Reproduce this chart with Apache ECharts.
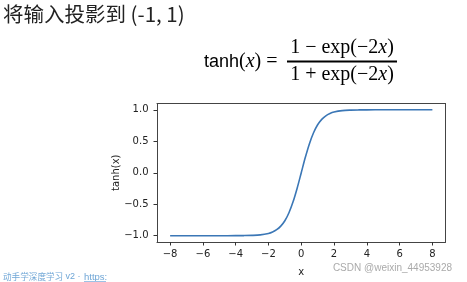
<!DOCTYPE html>
<html><head><meta charset="utf-8">
<script src="https://cdn.jsdelivr.net/npm/echarts@6/dist/echarts.min.js"></script>
<style>html,body{margin:0;padding:0;background:#fff}#c{width:467px;height:282px}</style>
</head><body><div id="c"></div>
<script>
// Values (tanh curve)
const xValues = [-8, -7, -6, -5, -4, -3.5, -3, -2.5, -2, -1.75, -1.5, -1.25, -1, -0.75, -0.5, -0.25, 0,
                 0.25, 0.5, 0.75, 1, 1.25, 1.5, 1.75, 2, 2.5, 3, 3.5, 4, 5, 6, 7, 8];
const yValues = [-1.0, -1.0, -1.0, -1.0, -0.999, -0.998, -0.995, -0.987, -0.964, -0.941, -0.905, -0.848, -0.762, -0.635, -0.462, -0.245, 0,
                 0.245, 0.462, 0.635, 0.762, 0.848, 0.905, 0.941, 0.964, 0.987, 0.995, 0.998, 0.999, 1.0, 1.0, 1.0, 1.0];
const xTicks = [-8, -6, -4, -2, 0, 2, 4, 6, 8];
const yTicks = [-1.0, -0.5, 0.0, 0.5, 1.0];
const titleText = '将输入投影到 (-1, 1)';
const footerCJK = '动手学深度学习';
const footerLatin = ' v2 · ';
const footerLink = 'https:';
const watermark = 'CSDN @weixin_44953928';

const fmt = v => {
  const s = (Math.abs(v) < 1e-9 ? 0 : v);
  return (s < 0 ? '\u2212' : '') + Math.abs(s).toString();
};
const fmtY = v => {
  const s = (Math.abs(v) < 1e-9 ? 0 : v);
  return (s < 0 ? '\u2212' : '') + Math.abs(s).toFixed(1);
};

const chart = echarts.init(document.getElementById('c'), null, {renderer: 'canvas'});
const serif = '"Liberation Serif", "DejaVu Serif", serif';
const richF = {
  s: {fontFamily: '"Liberation Sans", Arial, sans-serif', fontSize: 18, color: '#000'},
  r: {fontFamily: serif, fontSize: 20, color: '#000'},
  i: {fontFamily: serif, fontSize: 20, fontStyle: 'italic', color: '#000'}
};
const frameLine = {show: true, onZero: false, lineStyle: {color: '#444', width: 1}};
const tickFont = {fontFamily: '"DejaVu Sans"', fontSize: 10, color: '#222'};
chart.setOption({
  animation: false,
  grid: {left: 157, right: 21.5, top: 103.5, bottom: 36.5, containLabel: false},
  xAxis: [{
    type: 'value', min: -8.8, max: 8.8, position: 'bottom',
    name: 'x', nameLocation: 'middle', nameGap: 25, nameMoveOverlap: false,
    nameTextStyle: tickFont,
    axisLine: frameLine,
    splitLine: {show: false},
    axisTick: {show: true, length: 3.5, lineStyle: {color: '#333'}, customValues: xTicks},
    axisLabel: Object.assign({customValues: xTicks, formatter: fmt, margin: 7}, tickFont)
  }, {
    type: 'value', min: -8.8, max: 8.8, position: 'top',
    axisLine: frameLine, axisTick: {show: false}, axisLabel: {show: false}, splitLine: {show: false}
  }],
  yAxis: [{
    type: 'value', min: -1.1, max: 1.1, position: 'left',
    name: 'tanh(x)', nameLocation: 'middle', nameGap: 36, nameRotate: 90, nameMoveOverlap: false,
    nameTextStyle: tickFont,
    axisLine: frameLine,
    splitLine: {show: false},
    axisTick: {show: true, length: 3.5, lineStyle: {color: '#333'}, customValues: yTicks},
    axisLabel: Object.assign({customValues: yTicks, formatter: fmtY, margin: 8.5}, tickFont)
  }, {
    type: 'value', min: -1.1, max: 1.1, position: 'right',
    axisLine: frameLine, axisTick: {show: false}, axisLabel: {show: false}, splitLine: {show: false}
  }],
  series: [{
    type: 'line', xAxisIndex: 0, yAxisIndex: 0, data: xValues.map((x, i) => [x, yValues[i]]),
    showSymbol: false, smooth: 0.3, lineStyle: {color: '#3b77b6', width: 1.6}
  }],
  graphic: [
    {type: 'text', left: 3, top: 4, style: {text: titleText, fontFamily: '"Noto Sans CJK SC", sans-serif', fontSize: 20.5, fill: '#222'}},
    {type: 'text', x: 204, y: 62, style: {text: '{s|tanh}{r|(}{i|x}{r|) =}', rich: richF, verticalAlign: 'middle', align: 'left'}},
    {type: 'text', x: 342, y: 48, style: {text: '{r|1 \u2212 exp(\u22122}{i|x}{r|)}', rich: richF, verticalAlign: 'middle', align: 'center'}},
    {type: 'line', shape: {x1: 287, y1: 61.5, x2: 397, y2: 61.5}, style: {stroke: '#000', lineWidth: 2}},
    {type: 'text', x: 342, y: 75, style: {text: '{r|1 + exp(\u22122}{i|x}{r|)}', rich: richF, verticalAlign: 'middle', align: 'center'}},
    {type: 'text', x: 3, y: 277, style: {text: footerCJK, fontFamily: '"Noto Sans CJK SC", sans-serif', fontSize: 8.6, fill: '#6fa6d6', verticalAlign: 'middle'}},
    {type: 'text', x: 63, y: 277, style: {text: footerLatin, fontFamily: '"Liberation Sans", sans-serif', fontSize: 9, fill: '#6fa6d6', verticalAlign: 'middle'}},
    {type: 'text', x: 84, y: 277, style: {text: footerLink, fontFamily: '"Liberation Sans", sans-serif', fontSize: 9.5, fill: '#6fa6d6', verticalAlign: 'middle'}},
    {type: 'line', shape: {x1: 84, y1: 281.5, x2: 106, y2: 281.5}, style: {stroke: '#9cc2e6', lineWidth: 1}},
    {type: 'text', x: 452, y: 268, style: {text: watermark, fontFamily: '"Liberation Sans", Arial, sans-serif', fontSize: 10, fill: '#aaaaaa', align: 'right', verticalAlign: 'middle'}}
  ]
});
</script></body></html>
